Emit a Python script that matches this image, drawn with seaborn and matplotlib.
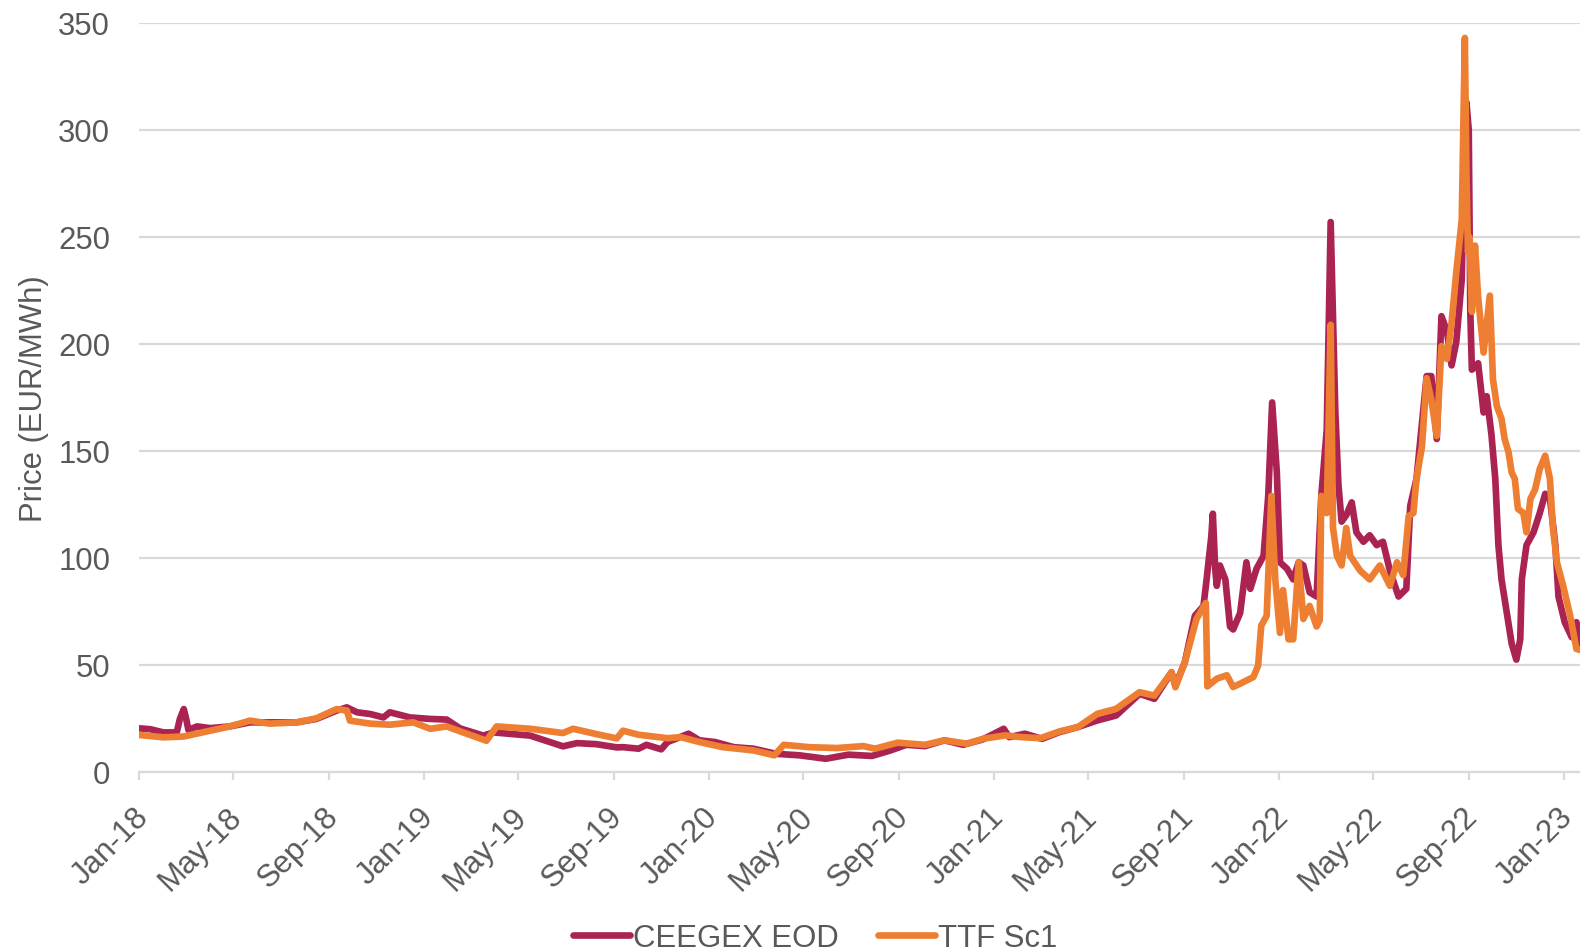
import matplotlib
matplotlib.use("Agg")
import matplotlib.pyplot as plt
import matplotlib.dates as mdates
import matplotlib.transforms as mtransforms
import pandas as pd
import seaborn as sns

# ---------------- data ----------------
series_names = ["CEEGEX EOD", "TTF Sc1"]
series_colors = ["#AB2352", "#EE7F32"]

ceegex_dates = [
    "2018-01-01", "2018-01-15", "2018-02-01", "2018-02-18", "2018-02-22", "2018-02-27", "2018-03-02",
    "2018-03-05", "2018-03-16", "2018-04-02", "2018-04-27", "2018-05-23", "2018-06-17", "2018-07-22",
    "2018-08-16", "2018-09-11", "2018-09-24", "2018-10-07", "2018-10-24", "2018-11-10", "2018-11-18",
    "2018-12-14", "2019-01-09", "2019-01-30", "2019-02-16", "2019-03-18", "2019-03-31", "2019-05-17",
    "2019-06-28", "2019-07-16", "2019-08-10", "2019-09-05", "2019-09-13", "2019-10-03", "2019-10-13",
    "2019-11-01", "2019-11-09", "2019-12-06", "2019-12-20", "2020-01-09", "2020-02-02", "2020-02-27",
    "2020-03-27", "2020-04-26", "2020-05-30", "2020-06-28", "2020-07-28", "2020-08-21", "2020-09-10",
    "2020-10-04", "2020-10-29", "2020-11-22", "2020-12-17", "2021-01-13", "2021-01-20", "2021-02-09",
    "2021-03-03", "2021-03-25", "2021-04-18", "2021-05-13", "2021-06-06", "2021-07-06", "2021-07-25",
    "2021-08-16", "2021-08-21", "2021-09-02", "2021-09-15", "2021-09-26", "2021-09-30", "2021-10-06",
    "2021-10-08", "2021-10-11", "2021-10-13", "2021-10-17", "2021-10-24", "2021-10-30", "2021-11-03",
    "2021-11-12", "2021-11-20", "2021-11-25", "2021-12-03", "2021-12-12", "2021-12-18", "2021-12-23",
    "2021-12-29", "2022-01-02", "2022-01-11", "2022-01-19", "2022-01-26", "2022-02-01", "2022-02-09",
    "2022-02-18", "2022-02-24", "2022-03-03", "2022-03-08", "2022-03-14", "2022-03-18", "2022-03-22",
    "2022-03-28", "2022-04-04", "2022-04-10", "2022-04-19", "2022-04-27", "2022-05-06", "2022-05-14",
    "2022-05-23", "2022-06-03", "2022-06-13", "2022-06-18", "2022-06-26", "2022-07-09", "2022-07-15",
    "2022-07-22", "2022-07-28", "2022-08-04", "2022-08-10", "2022-08-16", "2022-08-23", "2022-08-26",
    "2022-08-29", "2022-09-01", "2022-09-03", "2022-09-05", "2022-09-13", "2022-09-20", "2022-09-24",
    "2022-09-30", "2022-10-05", "2022-10-09", "2022-10-13", "2022-10-20", "2022-10-26", "2022-11-01",
    "2022-11-06", "2022-11-08", "2022-11-14", "2022-11-23", "2022-12-01", "2022-12-08", "2022-12-14",
    "2022-12-21", "2022-12-25", "2023-01-02", "2023-01-11", "2023-01-17", "2023-01-22",
]
ceegex_values = [
    20.4, 20.0, 18.5, 18.5, 24.8, 29.4, 25.0,
    19.6, 21.3, 20.5, 21.3, 23.2, 23.2, 23.2,
    24.8, 28.7, 30.2, 27.9, 27.1, 25.5, 27.9,
    25.5, 24.8, 24.5, 20.4, 17.0, 18.5, 17.0,
    12.0, 13.5, 13.0, 11.5, 11.6, 10.9, 12.7,
    10.6, 14.0, 17.9, 14.8, 14.0, 11.6, 10.9,
    8.5, 7.8, 6.2, 8.1, 7.5, 10.1, 12.7,
    12.1, 14.8, 12.7, 15.2, 20.2, 16.3, 17.9,
    15.5, 18.6, 21.0, 24.1, 26.4, 36.5, 34.2,
    46.6, 40.4, 51.2, 73.0, 77.6, 90.0, 110.0,
    120.7, 95.0, 87.0, 96.5, 90.0, 68.0, 66.6,
    74.3, 98.0, 85.6, 95.0, 101.0, 129.0, 172.7,
    140.0, 98.0, 95.0, 90.0, 98.0, 96.5, 84.0,
    82.0, 129.0, 160.0, 257.0, 168.0, 134.0, 117.0,
    120.0, 126.0, 112.0, 107.6, 110.6, 106.0, 107.6,
    94.0, 82.0, 85.6, 124.4, 137.0, 185.0, 185.0,
    155.6, 213.0, 206.0, 190.0, 201.0, 230.0, 290.0,
    313.0, 300.0, 214.7, 188.0, 191.0, 168.0, 175.6,
    158.0, 137.0, 106.0, 90.0, 74.0, 60.0, 52.5,
    62.0, 90.0, 106.0, 112.0, 121.0, 130.0, 128.0,
    106.0, 82.0, 70.0, 63.0, 70.0, 60.0,
]

ttf_dates = [
    "2018-01-01", "2018-02-01", "2018-02-27", "2018-04-02", "2018-04-27", "2018-05-23", "2018-06-17",
    "2018-07-22", "2018-08-16", "2018-09-11", "2018-09-24", "2018-09-28", "2018-10-24", "2018-11-18",
    "2018-12-18", "2019-01-09", "2019-01-30", "2019-02-20", "2019-03-22", "2019-04-04", "2019-05-17",
    "2019-06-28", "2019-07-11", "2019-08-10", "2019-09-05", "2019-09-13", "2019-10-03", "2019-11-09",
    "2019-11-26", "2019-12-20", "2020-01-19", "2020-02-27", "2020-03-25", "2020-04-06", "2020-05-09",
    "2020-06-13", "2020-07-17", "2020-08-01", "2020-08-30", "2020-10-04", "2020-10-29", "2020-11-27",
    "2020-12-17", "2021-01-15", "2021-02-04", "2021-03-01", "2021-03-25", "2021-04-18", "2021-05-13",
    "2021-06-06", "2021-07-06", "2021-07-25", "2021-08-16", "2021-08-21", "2021-09-02", "2021-09-17",
    "2021-09-29", "2021-10-01", "2021-10-13", "2021-10-26", "2021-11-03", "2021-11-16", "2021-11-29",
    "2021-12-05", "2021-12-09", "2021-12-16", "2021-12-22", "2021-12-27", "2022-01-02", "2022-01-06",
    "2022-01-13", "2022-01-19", "2022-01-26", "2022-02-01", "2022-02-09", "2022-02-18", "2022-02-22",
    "2022-02-24", "2022-03-03", "2022-03-08", "2022-03-11", "2022-03-16", "2022-03-22", "2022-03-28",
    "2022-04-02", "2022-04-15", "2022-04-27", "2022-05-10", "2022-05-23", "2022-06-01", "2022-06-09",
    "2022-06-16", "2022-06-22", "2022-06-26", "2022-07-03", "2022-07-09", "2022-07-15", "2022-07-22",
    "2022-07-28", "2022-08-04", "2022-08-10", "2022-08-16", "2022-08-23", "2022-08-27", "2022-08-29",
    "2022-08-31", "2022-09-02", "2022-09-05", "2022-09-09", "2022-09-13", "2022-09-20", "2022-09-28",
    "2022-10-02", "2022-10-07", "2022-10-13", "2022-10-17", "2022-10-22", "2022-10-26", "2022-10-30",
    "2022-11-03", "2022-11-10", "2022-11-14", "2022-11-19", "2022-11-25", "2022-12-01", "2022-12-08",
    "2022-12-14", "2022-12-18", "2022-12-23", "2022-12-31", "2023-01-09", "2023-01-17", "2023-01-22",
]
ttf_values = [
    17.3, 16.2, 16.6, 19.3, 21.3, 24.0, 22.6,
    23.2, 25.1, 29.4, 28.7, 24.0, 22.6, 22.1,
    23.2, 20.2, 21.3, 18.5, 14.6, 21.3, 20.2,
    18.2, 20.2, 17.7, 15.7, 19.3, 17.4, 15.8,
    16.3, 14.0, 11.6, 10.1, 7.8, 12.7, 11.6,
    11.2, 12.1, 10.9, 13.7, 12.7, 14.8, 13.2,
    15.5, 17.1, 16.3, 15.8, 18.9, 21.0, 27.2,
    29.5, 37.3, 35.7, 46.6, 39.6, 51.2, 71.5,
    79.0, 40.0, 43.6, 45.2, 39.7, 42.0, 44.4,
    49.7, 68.4, 73.0, 129.0, 90.0, 65.0, 85.0,
    62.0, 62.0, 98.0, 71.5, 77.6, 68.0, 71.0,
    129.0, 121.0, 209.0, 114.0, 101.0, 96.5, 114.0,
    101.0, 94.0, 90.0, 96.5, 87.0, 98.0, 92.0,
    119.6, 121.0, 137.0, 152.0, 184.0, 174.0, 157.0,
    199.0, 193.0, 210.0, 233.5, 258.0, 343.0, 280.0,
    243.0, 250.0, 215.0, 246.0, 222.0, 196.0, 222.6,
    183.6, 171.0, 165.0, 155.6, 149.4, 140.0, 137.0,
    123.0, 121.0, 112.0, 127.6, 132.0, 141.6, 147.8,
    137.0, 113.6, 98.0, 87.0, 73.0, 57.5, 57.0,
]

y_ticks = [0, 50, 100, 150, 200, 250, 300, 350]
y_label = "Price (EUR/MWh)"

# ---------------- build long-form table ----------------
df = pd.concat([
    pd.DataFrame({"date": pd.to_datetime(ceegex_dates), "price": ceegex_values, "series": series_names[0]}),
    pd.DataFrame({"date": pd.to_datetime(ttf_dates), "price": ttf_values, "series": series_names[1]}),
], ignore_index=True)

# ---------------- styling ----------------
sns.set_theme(style="white")
plt.rcParams["font.family"] = ["Liberation Sans", "DejaVu Sans"]
text_color = "#595959"
grid_color = "#D9D9D9"
fs = 22.4

fig = plt.figure(figsize=(15.8, 9.53), dpi=100)
ax = fig.add_axes([139.3 / 1580, 180 / 953, 1 - 139.3 / 1580, 749 / 953])

sns.lineplot(data=df, x="date", y="price", hue="series", hue_order=series_names,
             palette=series_colors, linewidth=4.8, estimator=None, ax=ax, legend=False)
for ln in ax.lines:
    ln.set_solid_joinstyle("round")
    ln.set_solid_capstyle("round")

ax.set_xlim(pd.Timestamp("2018-01-01"), pd.Timestamp("2023-01-21 14:00"))
ax.set_ylim(0, 350)
ax.set_yticks(y_ticks)
ax.yaxis.grid(True, color=grid_color, linewidth=1.6)
ax.xaxis.grid(False)
ax.set_axisbelow(True)
for side in ["top", "right", "left"]:
    ax.spines[side].set_visible(False)
ax.spines["bottom"].set_color(grid_color)
ax.spines["bottom"].set_linewidth(1.6)

ax.xaxis.set_major_locator(mdates.MonthLocator(bymonth=[1, 5, 9]))
ax.xaxis.set_major_formatter(mdates.DateFormatter("%b-%y"))
ax.tick_params(axis="x", length=6, width=1.6, color=grid_color, labelsize=fs,
               labelcolor=text_color, pad=15, bottom=True)
ax.tick_params(axis="y", length=0, labelsize=fs, labelcolor=text_color, pad=21)

offset = mtransforms.ScaledTranslation(-6 / 100, 0, fig.dpi_scale_trans)
for lab in ax.get_xticklabels():
    lab.set_rotation(45)
    lab.set_rotation_mode("anchor")
    lab.set_ha("right")
    lab.set_va("top")
    lab.set_transform(lab.get_transform() + offset)

ax.set_xlabel("")
ax.set_ylabel(y_label, fontsize=fs, color=text_color)
ax.yaxis.set_label_coords(-0.0625, 0.5)

handles = ax.lines[:2]
fig.legend(handles, series_names, loc="center", bbox_to_anchor=(0.516, 0.0145), ncol=2,
           frameon=False, fontsize=fs, labelcolor=text_color, handlelength=1.83,
           handletextpad=0.1, columnspacing=1.28, borderpad=0, borderaxespad=0)

fig.savefig("out.png", dpi=100)
